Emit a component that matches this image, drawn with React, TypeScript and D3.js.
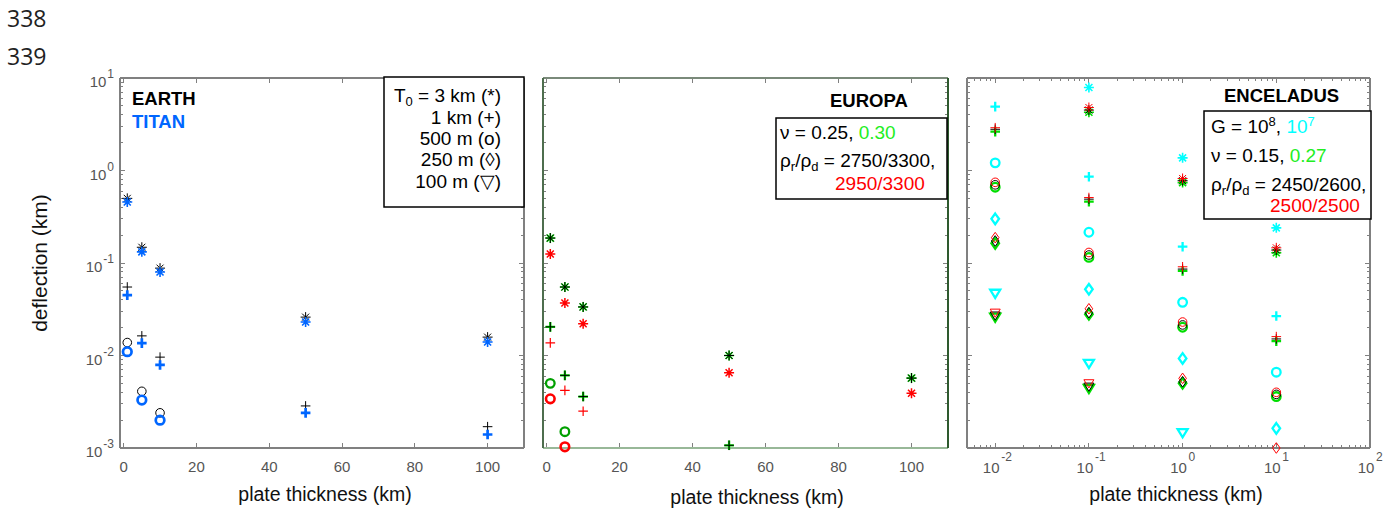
import React from "react";
import * as d3 from "d3";

// ---------------- DATA ----------------
const lineNumbers = ["338", "339"];
const linX = [1, 5, 10, 50, 100];
const linXCircle = [1, 5, 10];
const linTicks = [0, 20, 40, 60, 80, 100];
const logYTicks = [-3, -2, -1, 0, 1];
const logXTicks = [-2, -1, 0, 1, 2];
const legendT0 = ["1 km (+)", "500 m (o)", "250 m (\u25CA)", "100 m (\u25BD)"];

// EARTH (black) / TITAN (blue)
const earthStar = [0.5, 0.148, 0.088, 0.026, 0.0158];
const earthPlus = [0.055, 0.0163, 0.0096, 0.00285, 0.0017];
const earthCircle = [0.0138, 0.0041, 0.0024];
const titanStar = [0.457, 0.132, 0.08, 0.023, 0.014];
const titanPlus = [0.045, 0.0136, 0.0079, 0.0024, 0.0014];
const titanCircle = [0.011, 0.0033, 0.002];

// EUROPA
const europaBlackStar = [0.186, 0.055, 0.0335, 0.01, 0.0057];
const europaGreenStar = [0.186, 0.055, 0.0335, 0.01, 0.0057];
const europaRedStar = [0.125, 0.037, 0.022, 0.0065, 0.0039];
const europaBlackPlus = [0.0204, 0.0061, 0.0036, 0.00107, null];
const europaGreenPlus = [0.0204, 0.0061, 0.0036, 0.00107, null];
const europaRedPlus = [0.0137, 0.0042, 0.0025, null, null];
const europaGreenCircle = [0.005, 0.0015, null];
const europaRedCircle = [0.0034, 0.00103, null];

// ENCELADUS
const encX = [0.01, 0.1, 1, 10];
const encCyanStar = [null, 7.9, 1.37, 0.24];
const encCyanPlus = [4.9, 0.857, 0.15, 0.0267];
const encCyanCircle = [1.21, 0.215, 0.0376, 0.0066];
const encCyanDiamond = [0.3, 0.052, 0.0093, 0.00163];
const encCyanTri = [0.047, 0.0082, 0.00146, null];
const encBlackStar = [null, 4.5, 0.776, 0.138];
const encBlackPlus = [2.79, 0.49, 0.086, 0.0151];
const encBlackCircle = [0.7, 0.122, 0.0214, 0.0038];
const encBlackDiamond = [0.173, 0.029, 0.0052, null];
const encBlackTri = [0.027, 0.0046, null, null];
const encRedStar = [null, 4.8, 0.82, 0.146];
const encRedPlus = [2.9, 0.51, 0.091, 0.016];
const encRedCircle = [0.745, 0.13, 0.023, 0.004];
const encRedDiamond = [0.188, 0.032, 0.00566, 0.001];
const encRedTri = [0.029, 0.005, null, null];
const encGreenStar = [null, 4.26, 0.74, 0.129];
const encGreenPlus = [2.63, 0.46, 0.082, 0.0143];
const encGreenCircle = [0.66, 0.115, 0.0202, 0.0036];
const encGreenDiamond = [0.163, 0.028, 0.005, null];
const encGreenTri = [0.0259, 0.0044, null, null];

// ---------------- STYLE ----------------
const FONT = "'Liberation Sans', Arial, Helvetica, sans-serif";
const BLUE = "#0066ff";
const CYAN = "#00ffff";
const GREEN = "#00dd00";
const GREEN_TXT = "#22ee22";
const RED = "#ff0000";
const AXIS = "#808080";
const TICKTXT = "#555555";

const TOP = 78;
const BOTTOM = 448;
const P1 = [120, 524];
const P2 = [543, 948];
const P3 = [967, 1370];

const yScale = d3.scaleLog().domain([1e-3, 1e1]).range([BOTTOM, TOP]);
const x1 = d3.scaleLinear().domain([-1, 110]).range(P1);
const x2 = d3.scaleLinear().domain([-1, 110]).range(P2);
const x3 = d3.scaleLog().domain([0.005, 100]).range(P3);

type MType = "star" | "plus" | "circle" | "diamond" | "tri";

function Marker({ type, cx, cy, color, sw }: { type: MType; cx: number; cy: number; color: string; sw: number }) {
  const common = { stroke: color, strokeWidth: sw, fill: "none" } as any;
  const t = `translate(${cx},${cy})`;
  if (type === "star") {
    const s = 5;
    const d = s * 0.7;
    return (
      <path transform={t} {...common} strokeWidth={Math.min(sw, 1.6)} d={`M0,${-s}V${s}M${-s},0H${s}M${-d},${-d}L${d},${d}M${-d},${d}L${d},${-d}`} />
    );
  }
  if (type === "plus") {
    const s = 4.8;
    return <path transform={t} {...common} d={`M0,${-s}V${s}M${-s},0H${s}`} />;
  }
  if (type === "circle") {
    return <circle cx={cx} cy={cy} r={4.3} {...common} />;
  }
  if (type === "diamond") {
    return <path transform={t} {...common} d="M0,-5.3L3.8,0L0,5.3L-3.8,0Z" />;
  }
  return <path transform={t} {...common} d="M-5,-3.6L5,-3.6L0,4.6Z" />;
}

function Series({ xs, ys, xScale, type, color, sw }: any) {
  return (
    <g>
      {ys.map((v: number | null, i: number) =>
        v == null ? null : (
          <Marker key={i} type={type} cx={xScale(xs[i])} cy={yScale(v)} color={color} sw={sw} />
        )
      )}
    </g>
  );
}

function logMinor(lo: number, hi: number, domLo: number, domHi: number) {
  const out: number[] = [];
  for (let e = lo; e <= hi; e++) {
    for (let m = 2; m <= 9; m++) {
      const v = m * Math.pow(10, e);
      if (v > domLo && v < domHi) out.push(v);
    }
  }
  return out;
}

function Box({ xr, colors }: { xr: number[]; colors?: { top: string; left: string; bottom: string; right: string } }) {
  const c = colors || { top: AXIS, left: AXIS, bottom: AXIS, right: AXIS };
  return (
    <g strokeWidth={1.2} shapeRendering="crispEdges">
      <line x1={xr[0]} x2={xr[1]} y1={TOP} y2={TOP} stroke={c.top} />
      <line x1={xr[0]} x2={xr[1]} y1={BOTTOM} y2={BOTTOM} stroke={c.bottom} />
      <line x1={xr[0]} x2={xr[0]} y1={TOP} y2={BOTTOM} stroke={c.left} />
      <line x1={xr[1]} x2={xr[1]} y1={TOP} y2={BOTTOM} stroke={c.right} />
    </g>
  );
}

function YTicks({ xr }: { xr: number[] }) {
  const majors = logYTicks.map((e) => Math.pow(10, e));
  const minors = logMinor(-3, 0, 1e-3, 1e1);
  return (
    <g stroke={AXIS} strokeWidth={1} shapeRendering="crispEdges">
      {majors.map((v, i) => (
        <g key={"M" + i}>
          <line x1={xr[0]} x2={xr[0] + 5} y1={yScale(v)} y2={yScale(v)} />
          <line x1={xr[1]} x2={xr[1] - 5} y1={yScale(v)} y2={yScale(v)} />
        </g>
      ))}
      {minors.map((v, i) => (
        <g key={"m" + i}>
          <line x1={xr[0]} x2={xr[0] + 3} y1={yScale(v)} y2={yScale(v)} />
          <line x1={xr[1]} x2={xr[1] - 3} y1={yScale(v)} y2={yScale(v)} />
        </g>
      ))}
    </g>
  );
}

function LinXTicks({ xs }: { xs: any }) {
  return (
    <g>
      <g stroke={AXIS} strokeWidth={1} shapeRendering="crispEdges">
        {linTicks.map((v) => (
          <g key={v}>
            <line x1={xs(v)} x2={xs(v)} y1={BOTTOM} y2={BOTTOM - 5} />
            <line x1={xs(v)} x2={xs(v)} y1={TOP} y2={TOP + 5} />
          </g>
        ))}
      </g>
      {linTicks.map((v) => (
        <text key={v} x={xs(v)} y={472} textAnchor="middle" fontSize={15} fill={TICKTXT} fontFamily={FONT}>
          {v}
        </text>
      ))}
    </g>
  );
}

function LogXTicks() {
  const majors = logXTicks.map((e) => Math.pow(10, e));
  const minors = logMinor(-3, 1, 0.005, 100);
  return (
    <g>
      <g stroke={AXIS} strokeWidth={1} shapeRendering="crispEdges">
        {majors.map((v, i) => (
          <g key={"M" + i}>
            <line x1={x3(v)} x2={x3(v)} y1={BOTTOM} y2={BOTTOM - 5} />
            <line x1={x3(v)} x2={x3(v)} y1={TOP} y2={TOP + 5} />
          </g>
        ))}
        {minors.map((v, i) => (
          <g key={"m" + i}>
            <line x1={x3(v)} x2={x3(v)} y1={BOTTOM} y2={BOTTOM - 3} />
            <line x1={x3(v)} x2={x3(v)} y1={TOP} y2={TOP + 3} />
          </g>
        ))}
      </g>
      {logXTicks.map((e) => {
        const x = x3(Math.pow(10, e));
        return (
          <g key={e} fill={TICKTXT} fontFamily={FONT}>
            <text x={x - 4} y={473} textAnchor="middle" fontSize={15}>
              10
            </text>
            <text x={x + 6} y={461} fontSize={12}>
              {e < 0 ? "-" + Math.abs(e) : String(e)}
            </text>
          </g>
        );
      })}
    </g>
  );
}

function YLabels() {
  return (
    <g fill={TICKTXT} fontFamily={FONT}>
      {logYTicks.map((e) => {
        const y = yScale(Math.pow(10, e));
        return (
          <text key={e} x={114} y={y + 9} textAnchor="end" fontSize={15}>
            <tspan>10</tspan>
            <tspan dy={-9} dx={1} fontSize={12}>
              {e < 0 ? "-" + Math.abs(e) : String(e)}
            </tspan>
          </text>
        );
      })}
    </g>
  );
}

export default function App() {
  const thin = 1;
  const bold = 2.3;
  const LF = 19;
  const SUB = 13;
  return (
    <svg
      width={1395}
      height={513}
      viewBox="0 0 1395 513"
      style={{ position: "absolute", left: 0, top: 0, background: "#fff" }}
      fontFamily={FONT}
    >
      <rect x={0} y={0} width={1395} height={513} fill="#fff" />
      {/* document line numbers */}
      {lineNumbers.map((n, i) => (
        <text key={n} x={7} y={27 + i * 38} fontSize={23} fill="#222" fontFamily="'Open Sans', 'Liberation Sans', sans-serif">
          {n}
        </text>
      ))}

      {/* axis labels */}
      <text transform="translate(47,263) rotate(-90)" textAnchor="middle" fontSize={21} fill="#111">
        deflection (km)
      </text>
      <text x={325} y={501} textAnchor="middle" fontSize={19.5} fill="#111">
        plate thickness (km)
      </text>
      <text x={757} y={504} textAnchor="middle" fontSize={19.5} fill="#111">
        plate thickness (km)
      </text>
      <text x={1176} y={501} textAnchor="middle" fontSize={19.5} fill="#111">
        plate thickness (km)
      </text>

      {/* ===== Panel 1: EARTH / TITAN ===== */}
      <Box xr={P1} />
      <YTicks xr={P1} />
      <LinXTicks xs={x1} />
      <YLabels />
      <Series xs={linX} ys={earthStar} xScale={x1} type="star" color="#000" sw={thin} />
      <Series xs={linX} ys={earthPlus} xScale={x1} type="plus" color="#000" sw={thin} />
      <Series xs={linXCircle} ys={earthCircle} xScale={x1} type="circle" color="#000" sw={thin} />
      <Series xs={linX} ys={titanStar} xScale={x1} type="star" color={BLUE} sw={bold} />
      <Series xs={linX} ys={titanPlus} xScale={x1} type="plus" color={BLUE} sw={bold + 0.4} />
      <Series xs={linXCircle} ys={titanCircle} xScale={x1} type="circle" color={BLUE} sw={bold + 0.4} />
      <text x={132} y={105} fontSize={18.5} fontWeight="bold" fill="#000">EARTH</text>
      <text x={132} y={128} fontSize={18.5} fontWeight="bold" fill={BLUE}>TITAN</text>
      <rect x={384} y={77} width={140} height={130} fill="#fff" stroke="#000" strokeWidth={1.5} />
      <g fontSize={LF} fill="#000" textAnchor="end">
        <text x={501} y={102}>
          <tspan>T</tspan>
          <tspan fontSize={SUB} dy={4}>0</tspan>
          <tspan dy={-4}>{" = 3 km (*)"}</tspan>
        </text>
        {legendT0.map((s, i) => (
          <text key={s} x={501} y={123.5 + i * 21.4}>{s}</text>
        ))}
      </g>

      {/* ===== Panel 2: EUROPA ===== */}
      <YTicks xr={P2} />
      <LinXTicks xs={x2} />
      <Box xr={P2} colors={{ top: "#7a8a7a", left: "#4e6e4e", bottom: "#98b898", right: "#2e5a2e" }} />
      <Series xs={linX} ys={europaGreenStar} xScale={x2} type="star" color={GREEN} sw={bold} />
      <Series xs={linX} ys={europaBlackStar} xScale={x2} type="star" color="#000" sw={thin} />
      <Series xs={linX} ys={europaRedStar} xScale={x2} type="star" color={RED} sw={1.5} />
      <Series xs={linX} ys={europaGreenPlus} xScale={x2} type="plus" color={GREEN} sw={bold} />
      <Series xs={linX} ys={europaBlackPlus} xScale={x2} type="plus" color="#000" sw={thin} />
      <Series xs={linX} ys={europaRedPlus} xScale={x2} type="plus" color={RED} sw={thin + 0.2} />
      <Series xs={linXCircle} ys={europaGreenCircle} xScale={x2} type="circle" color="#00a000" sw={bold} />
      <Series xs={linXCircle} ys={europaRedCircle} xScale={x2} type="circle" color={RED} sw={bold + 0.3} />
      <text x={830} y={107} fontSize={18.5} fontWeight="bold" fill="#000">EUROPA</text>
      <rect x={776} y={118} width={171} height={81} fill="#fff" stroke="#000" strokeWidth={1.5} />
      <g fontSize={LF}>
        <text x={780} y={139} fill="#000">
          <tspan>{"\u03BD = 0.25, "}</tspan>
          <tspan fill={GREEN_TXT}>0.30</tspan>
        </text>
        <text x={780} y={167} fill="#000">
          <tspan>{"\u03C1"}</tspan>
          <tspan fontSize={SUB} dy={4}>r</tspan>
          <tspan dy={-4}>{"/\u03C1"}</tspan>
          <tspan fontSize={SUB} dy={4}>d</tspan>
          <tspan dy={-4}>{" = 2750/3300,"}</tspan>
        </text>
        <text x={835} y={190} fill={RED}>2950/3300</text>
      </g>

      {/* ===== Panel 3: ENCELADUS ===== */}
      <Box xr={P3} />
      <YTicks xr={P3} />
      <LogXTicks />
      <Series xs={encX} ys={encCyanStar} xScale={x3} type="star" color={CYAN} sw={bold} />
      <Series xs={encX} ys={encCyanPlus} xScale={x3} type="plus" color={CYAN} sw={bold} />
      <Series xs={encX} ys={encCyanCircle} xScale={x3} type="circle" color={CYAN} sw={bold} />
      <Series xs={encX} ys={encCyanDiamond} xScale={x3} type="diamond" color={CYAN} sw={bold} />
      <Series xs={encX} ys={encCyanTri} xScale={x3} type="tri" color={CYAN} sw={bold} />
      <Series xs={encX} ys={encGreenStar} xScale={x3} type="star" color={GREEN} sw={bold} />
      <Series xs={encX} ys={encGreenPlus} xScale={x3} type="plus" color={GREEN} sw={bold} />
      <Series xs={encX} ys={encGreenCircle} xScale={x3} type="circle" color={GREEN} sw={bold} />
      <Series xs={encX} ys={encGreenDiamond} xScale={x3} type="diamond" color={GREEN} sw={bold} />
      <Series xs={encX} ys={encGreenTri} xScale={x3} type="tri" color={GREEN} sw={bold} />
      <Series xs={encX} ys={encBlackStar} xScale={x3} type="star" color="#000" sw={thin} />
      <Series xs={encX} ys={encBlackPlus} xScale={x3} type="plus" color="#000" sw={thin} />
      <Series xs={encX} ys={encBlackCircle} xScale={x3} type="circle" color="#000" sw={thin} />
      <Series xs={encX} ys={encBlackDiamond} xScale={x3} type="diamond" color="#000" sw={thin} />
      <Series xs={encX} ys={encBlackTri} xScale={x3} type="tri" color="#000" sw={thin} />
      <Series xs={encX} ys={encRedStar} xScale={x3} type="star" color={RED} sw={thin} />
      <Series xs={encX} ys={encRedPlus} xScale={x3} type="plus" color={RED} sw={thin} />
      <Series xs={encX} ys={encRedCircle} xScale={x3} type="circle" color={RED} sw={thin} />
      <Series xs={encX} ys={encRedDiamond} xScale={x3} type="diamond" color={RED} sw={thin} />
      <Series xs={encX} ys={encRedTri} xScale={x3} type="tri" color={RED} sw={thin} />
      <text x={1224} y={102} fontSize={18.5} fontWeight="bold" fill="#000">ENCELADUS</text>
      <rect x={1204} y={111} width={167} height={108} fill="#fff" stroke="#000" strokeWidth={1.5} />
      <g fontSize={LF}>
        <text x={1211} y={133} fill="#000">
          <tspan>{"G = 10"}</tspan>
          <tspan fontSize={SUB} dy={-7}>8</tspan>
          <tspan dy={7}>{", "}</tspan>
          <tspan fill={CYAN}>10</tspan>
          <tspan fill={CYAN} fontSize={SUB} dy={-7}>7</tspan>
        </text>
        <text x={1211} y={162} fill="#000">
          <tspan>{"\u03BD = 0.15, "}</tspan>
          <tspan fill={GREEN_TXT}>0.27</tspan>
        </text>
        <text x={1211} y={191} fill="#000">
          <tspan>{"\u03C1"}</tspan>
          <tspan fontSize={SUB} dy={4}>r</tspan>
          <tspan dy={-4}>{"/\u03C1"}</tspan>
          <tspan fontSize={SUB} dy={4}>d</tspan>
          <tspan dy={-4}>{" = 2450/2600,"}</tspan>
        </text>
        <text x={1270} y={212} fill={RED}>2500/2500</text>
      </g>
    </svg>
  );
}
